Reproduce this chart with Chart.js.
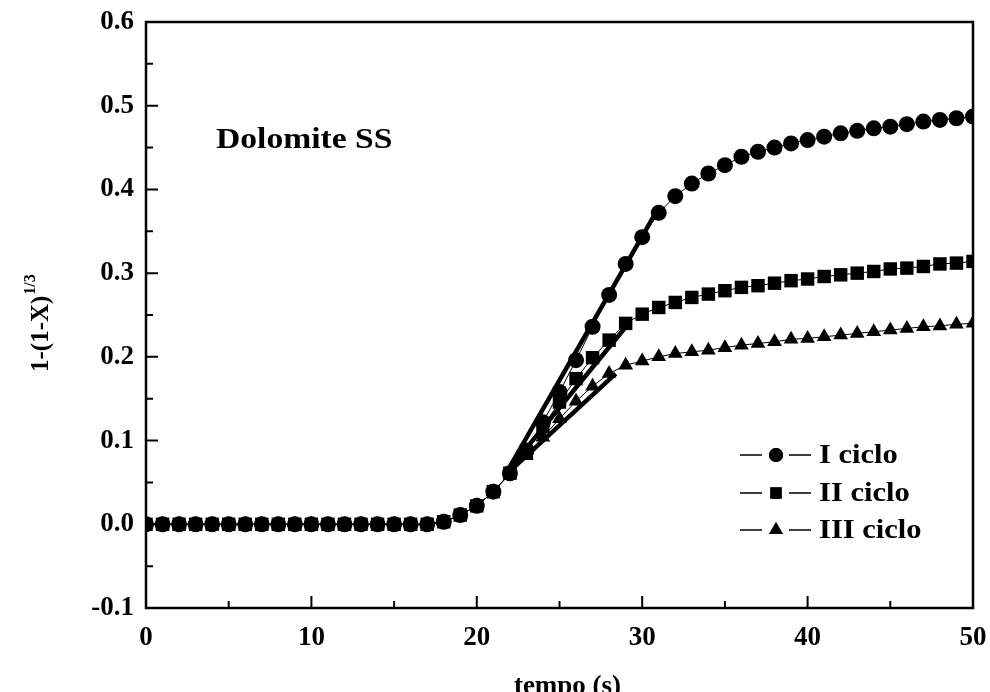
<!DOCTYPE html>
<html>
<head>
<meta charset="utf-8">
<script src="https://cdn.jsdelivr.net/npm/chart.js@4.4.0/dist/chart.umd.min.js"></script>
<style>
html,body{margin:0;padding:0;background:#fff;}
#wrap{width:990px;height:692px;position:relative;}
</style>
</head>
<body>
<div id="wrap"><canvas id="c" width="990" height="692"></canvas></div>
<script>
// ---- data ----
const timeS = [0,1,2,3,4,5,6,7,8,9,10,11,12,13,14,15,16,17,18,19,20,21,22,23,24,25,26,27,28,29,30,31,32,33,34,35,36,37,38,39,40,41,42,43,44,45,46,47,48,49,50];
const cicloI = [0,0,0,0,0,0,0,0,0,0,0,0,0,0,0,0,0,0,0.003,0.011,0.022,0.039,0.061,0.088,0.122,0.158,0.196,0.236,0.274,0.311,0.343,0.372,0.392,0.407,0.419,0.429,0.439,0.445,0.450,0.455,0.459,0.463,0.467,0.470,0.473,0.475,0.478,0.481,0.483,0.485,0.487];
const cicloII = [0,0,0,0,0,0,0,0,0,0,0,0,0,0,0,0,0,0,0.003,0.011,0.022,0.039,0.061,0.087,0.117,0.146,0.174,0.199,0.220,0.240,0.251,0.259,0.265,0.271,0.275,0.279,0.283,0.285,0.288,0.291,0.293,0.296,0.298,0.300,0.302,0.305,0.306,0.308,0.311,0.312,0.314];
const cicloIII = [0,0,0,0,0,0,0,0,0,0,0,0,0,0,0,0,0,0,0.003,0.011,0.022,0.039,0.060,0.082,0.104,0.126,0.147,0.165,0.180,0.190,0.195,0.200,0.204,0.206,0.208,0.211,0.214,0.216,0.218,0.221,0.222,0.224,0.226,0.228,0.230,0.232,0.234,0.236,0.237,0.239,0.240];
// linear fits (start/end)
const fitIx = [21.8, 30.9], fitIy = [0.062, 0.375];
const fitIIx = [21.8, 29.1], fitIIy = [0.062, 0.238];
const fitIIIx = [21.8, 28.4], fitIIIy = [0.060, 0.180];
const seriesNames = ['I ciclo','II ciclo','III ciclo'];
const xTicks = [0,10,20,30,40,50];
const yTicks = [-0.1,0,0.1,0.2,0.3,0.4,0.5,0.6];
const xMinorTicks = [5,15,25,35,45];
const yMinorTicks = [-0.05,0.05,0.15,0.25,0.35,0.45,0.55];
const chartTitle = 'Dolomite SS';
const xTitle = 'tempo (s)';
const yTitleMain = '1-(1-X)';
const yTitleSup = '1/3';

const FONT = '"Liberation Serif","Times New Roman",serif';
const pts = (xs, ys) => xs.map((x,i)=>({x:x, y:ys[i]}));

const styles = ['circle','rect','triangle'];
const radii = [8, 9.5, 8.5];

function stretchText(ctx, txt, x, y, sx){
  ctx.save();
  ctx.translate(x, y);
  ctx.scale(sx, 1);
  ctx.fillText(txt, 0, 0);
  ctx.restore();
}

const framePlugin = {
  id:'frame',
  afterDatasetsDraw(chart){
    const ctx = chart.ctx, a = chart.chartArea;
    const xs = chart.scales.x, ys = chart.scales.y;
    ctx.save();
    ctx.strokeStyle = '#000';
    ctx.lineWidth = 2.5;
    ctx.strokeRect(a.left, a.top, a.right - a.left, a.bottom - a.top);
    ctx.lineWidth = 2;
    ctx.beginPath();
    xTicks.forEach(v=>{const p=xs.getPixelForValue(v); ctx.moveTo(p,a.bottom); ctx.lineTo(p,a.bottom-12);});
    xMinorTicks.forEach(v=>{const p=xs.getPixelForValue(v); ctx.moveTo(p,a.bottom); ctx.lineTo(p,a.bottom-7);});
    yTicks.forEach(v=>{const p=ys.getPixelForValue(v); ctx.moveTo(a.left,p); ctx.lineTo(a.left+12,p);});
    yMinorTicks.forEach(v=>{const p=ys.getPixelForValue(v); ctx.moveTo(a.left,p); ctx.lineTo(a.left+7,p);});
    ctx.stroke();
    ctx.restore();
  },
  afterDraw(chart){
    const ctx = chart.ctx, a = chart.chartArea;
    ctx.save();
    ctx.fillStyle = '#000';
    // chart title inside plot
    ctx.font = 'bold 30px ' + FONT;
    ctx.textAlign = 'left'; ctx.textBaseline = 'alphabetic';
    stretchText(ctx, chartTitle, 216, 148, 1.12);
    // x title
    ctx.font = 'bold 27px ' + FONT;
    ctx.textAlign = 'center';
    stretchText(ctx, xTitle, (a.left + a.right)/2 + 8, 694, 1.0);
    // y title
    ctx.save();
    ctx.translate(48, 372);
    ctx.rotate(-Math.PI/2);
    ctx.textAlign = 'left';
    ctx.font = 'bold 25px ' + FONT;
    ctx.fillText(yTitleMain, 0, 0);
    const w = ctx.measureText(yTitleMain).width;
    ctx.font = 'bold 16px ' + FONT;
    ctx.fillText(yTitleSup, w + 1, -13);
    ctx.restore();
    // legend
    const rows = [455, 493, 530];
    ctx.font = 'bold 28px ' + FONT;
    ctx.textAlign = 'left'; ctx.textBaseline = 'middle';
    rows.forEach((y,i)=>{
      ctx.strokeStyle = '#000'; ctx.lineWidth = 1.5;
      ctx.beginPath();
      ctx.moveTo(740,y); ctx.lineTo(762,y);
      ctx.moveTo(789,y); ctx.lineTo(811,y);
      ctx.stroke();
      Chart.helpers.drawPoint(ctx, {pointStyle: styles[i], radius: [7,8,8][i], borderWidth: 0}, 776, y);
      ctx.fill();
      stretchText(ctx, seriesNames[i], 819, y + 1, 1.09);
    });
    ctx.restore();
  }
};

const dataSeries = [cicloI, cicloII, cicloIII];
const datasets = [];
dataSeries.forEach((ys,i)=>{
  datasets.push({
    label: seriesNames[i],
    data: pts(timeS, ys),
    showLine: true,
    borderColor: '#000',
    borderWidth: 1,
    backgroundColor: '#000',
    pointBackgroundColor: '#000',
    pointBorderColor: '#000',
    pointBorderWidth: 0,
    pointStyle: styles[i],
    pointRadius: radii[i],
    pointHoverRadius: radii[i],
    order: 3 - i
  });
});
[[fitIx,fitIy],[fitIIx,fitIIy],[fitIIIx,fitIIIy]].forEach((f,i)=>{
  datasets.push({
    label: 'fit ' + seriesNames[i],
    data: pts(f[0], f[1]),
    showLine: true,
    borderColor: '#000',
    borderWidth: 4.5,
    pointRadius: 0,
    order: 0
  });
});

new Chart(document.getElementById('c'), {
  type: 'scatter',
  data: { datasets },
  options: {
    responsive: false,
    animation: false,
    devicePixelRatio: 1,
    layout: { padding: { left: 0, right: 17, top: 22, bottom: 0 } },
    plugins: { legend: { display: false }, tooltip: { enabled: false }, title: { display: false } },
    scales: {
      x: {
        type: 'linear', min: 0, max: 50,
        grid: { display: false, drawTicks: false },
        border: { display: false },
        ticks: {
          stepSize: 10, padding: 14, color: '#000',
          font: { family: FONT, size: 27, weight: 'bold' },
          maxRotation: 0,
          callback: v => String(v)
        },
        afterBuildTicks: s => { s.ticks = xTicks.map(v=>({value:v})); },
        afterFit: s => { s.height = 84; s.paddingLeft = 0; s.paddingRight = 0; }
      },
      y: {
        type: 'linear', min: -0.1, max: 0.6,
        grid: { display: false, drawTicks: false },
        border: { display: false },
        ticks: {
          padding: 12, color: '#000',
          font: { family: FONT, size: 27, weight: 'bold' },
          callback: v => Number(v).toFixed(1)
        },
        afterBuildTicks: s => { s.ticks = yTicks.map(v=>({value:v})); },
        afterFit: s => { s.width = 146; s.paddingTop = 0; s.paddingBottom = 0; }
      }
    }
  },
  plugins: [framePlugin]
});
</script>
</body>
</html>
